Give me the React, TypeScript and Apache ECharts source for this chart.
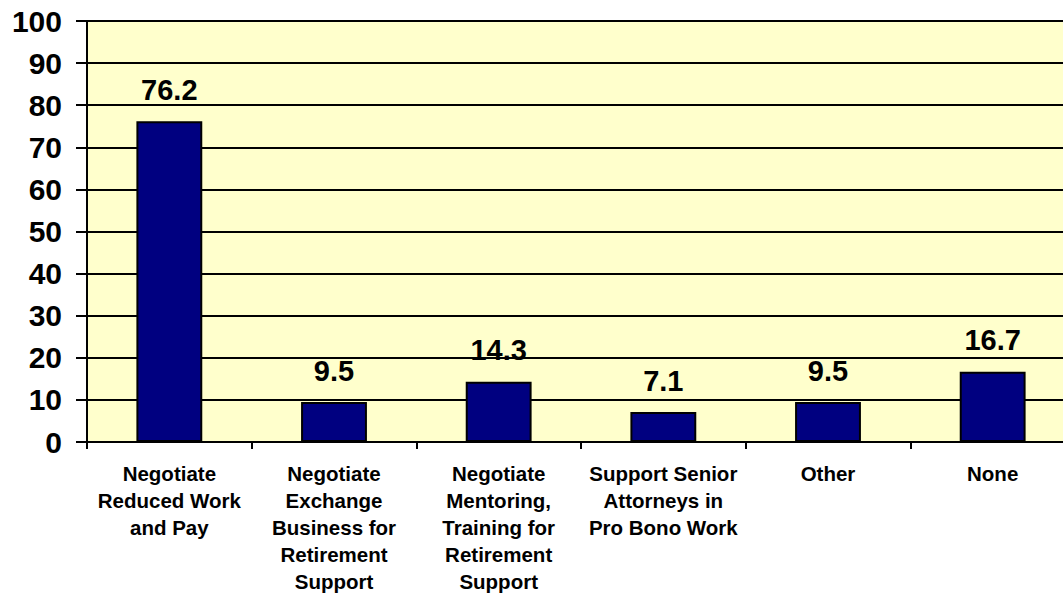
import React, { useEffect, useRef } from "react";
import * as echarts from "echarts";

const categories = [
  "Negotiate\nReduced Work\nand Pay",
  "Negotiate\nExchange\nBusiness for\nRetirement\nSupport",
  "Negotiate\nMentoring,\nTraining for\nRetirement\nSupport",
  "Support Senior\nAttorneys in\nPro Bono Work",
  "Other",
  "None",
];
const values = [76.2, 9.5, 14.3, 7.1, 9.5, 16.7];

export default function App() {
  const ref = useRef<HTMLDivElement>(null);
  useEffect(() => {
    const chart = echarts.init(ref.current!, null, { renderer: "svg" });
    const font = "Arial, 'Liberation Sans', Helvetica, sans-serif";
    chart.setOption({
      animation: false,
      grid: {
        left: 87, right: 1, top: 21, bottom: 152,
        outerBoundsMode: "none",
        containLabel: false,
        show: true, backgroundColor: "#FFFFCC", borderColor: "#808080", borderWidth: 2,
      },
      xAxis: {
        type: "category",
        data: categories,
        axisLine: { lineStyle: { color: "#000", width: 2 } },
        axisTick: { show: true, length: 7, lineStyle: { color: "#000", width: 2 }, alignWithLabel: false },
        axisLabel: { color: "#000", fontFamily: font, fontWeight: "bold", fontSize: 20.5, lineHeight: 27, margin: 18, interval: 0 },
      },
      yAxis: {
        type: "value",
        min: 0,
        max: 100,
        interval: 10,
        axisLine: { show: true, lineStyle: { color: "#000", width: 2 } },
        axisTick: { show: true, inside: false, length: 11, lineStyle: { color: "#000", width: 2 } },
        splitLine: { show: true, lineStyle: { color: "#000", width: 2 } },
        axisLabel: { color: "#000", fontFamily: font, fontWeight: "bold", fontSize: 30, margin: 25 },
      },
      series: [
        {
          type: "bar",
          data: values,
          barWidth: "40%",
          itemStyle: { color: "#000080", borderColor: "#000", borderWidth: 2 },
          label: {
            show: true,
            position: "top",
            distance: 17,
            color: "#000",
            fontFamily: font,
            fontWeight: "bold",
            fontSize: 29,
            formatter: (p: any) => p.value.toFixed(1),
          },
        },
      ],
    });
    return () => chart.dispose();
  }, []);
  return (
    <div style={{ position: "absolute", left: 0, top: 0, width: 1063, height: 594, overflow: "hidden" }}>
      <div ref={ref} style={{ width: 1076, height: 594 }} />
    </div>
  );
}
